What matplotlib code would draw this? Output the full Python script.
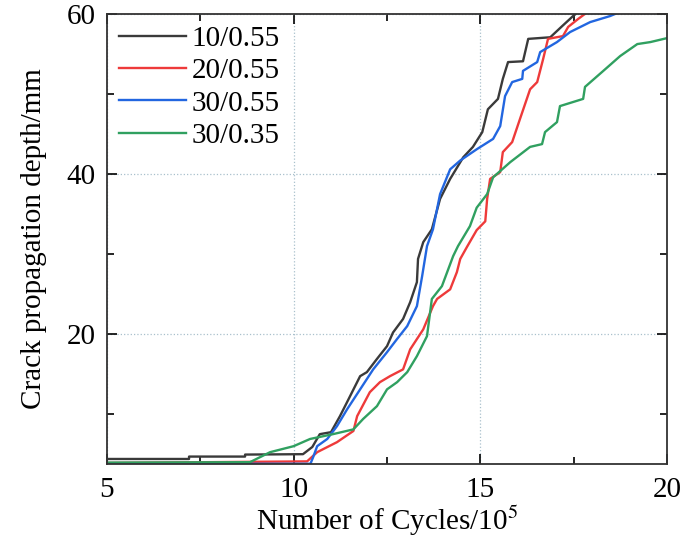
import numpy as np
import matplotlib
matplotlib.use("Agg")
import matplotlib.pyplot as plt
from matplotlib.ticker import MultipleLocator

plt.rcParams['font.family'] = ['Liberation Serif', 'DejaVu Serif']
plt.rcParams['mathtext.fontset'] = 'stix'

labels = ["10/0.55", "20/0.55", "30/0.55", "30/0.35"]
colors = ["#3a3a3a", "#ee3a3a", "#2266e0", "#30a060"]

# 10/0.55
x1 = [5.0, 7.2, 7.2, 8.7, 8.7, 10.25, 10.5, 10.7, 11.0, 11.24, 11.43, 11.78, 11.96, 12.23,
      12.5, 12.66, 12.93, 13.12, 13.3, 13.33, 13.47, 13.7, 13.92, 14.19, 14.54, 14.8,
      15.05, 15.2, 15.47, 15.6, 15.74, 16.14, 16.28, 16.87, 17.19, 17.48, 17.6]
y1 = [4.4, 4.4, 4.7, 4.7, 4.95, 5.0, 5.9, 7.5, 7.75, 9.75, 11.5, 14.75, 15.25, 16.9,
      18.5, 20.2, 21.9, 24.0, 26.5, 29.4, 31.5, 33.1, 36.9, 39.4, 42.1, 43.4,
      45.25, 48.1, 49.4, 51.9, 54.0, 54.1, 56.9, 57.1, 58.5, 59.75, 60.2]

# 20/0.55
x2 = [5.0, 10.36, 10.63, 11.16, 11.6, 11.7, 12.04, 12.31, 12.58, 12.93, 13.12, 13.47,
      13.73, 13.84, 14.19, 14.37, 14.46, 14.64, 14.9, 15.13, 15.18, 15.26, 15.53, 15.6,
      15.85, 16.06, 16.33, 16.52, 16.68, 16.81, 17.21, 17.35, 17.62, 17.85]
y2 = [3.9, 4.1, 5.25, 6.5, 7.9, 9.75, 12.75, 14.0, 14.75, 15.6, 18.1, 20.6,
      23.5, 24.4, 25.6, 27.75, 29.4, 30.9, 33.0, 34.1, 36.9, 39.4, 40.25, 42.75,
      44.0, 46.9, 50.6, 51.5, 54.4, 56.9, 57.25, 58.4, 59.4, 60.2]

# 30/0.55
x3 = [5.0, 10.45, 10.52, 10.63, 10.9, 11.16, 11.43, 11.78, 12.13, 12.5, 12.77, 13.04,
      13.3, 13.44, 13.57, 13.73, 13.92, 14.19, 14.46, 14.9, 15.34, 15.53, 15.66, 15.85,
      16.12, 16.14, 16.52, 16.6, 17.05, 17.4, 17.94, 18.47, 18.7]
y3 = [3.8, 3.8, 4.6, 6.0, 6.9, 8.5, 10.6, 13.1, 15.6, 17.75, 19.4, 21.0,
      23.5, 27.25, 31.0, 33.1, 37.5, 40.6, 41.7, 43.1, 44.4, 46.0, 49.75, 51.5,
      51.9, 52.9, 54.0, 55.25, 56.5, 57.75, 59.0, 59.75, 60.2]

# 30/0.35
x4 = [5.0, 8.83, 9.37, 10.0, 10.44, 11.05, 11.6, 11.86, 12.23, 12.5, 12.77, 13.04,
      13.3, 13.57, 13.7, 13.97, 14.27, 14.4, 14.72, 14.9, 15.18, 15.34, 15.8, 16.33,
      16.65, 16.73, 17.05, 17.13, 17.75, 17.8, 18.29, 18.74, 19.2, 19.55, 20.0]
y4 = [3.95, 4.0, 5.25, 6.0, 6.9, 7.5, 8.1, 9.4, 11.0, 13.1, 14.0, 15.25,
      17.25, 19.75, 24.4, 26.0, 29.75, 31.0, 33.5, 35.8, 37.5, 39.6, 41.5, 43.4,
      43.75, 45.25, 46.5, 48.5, 49.4, 50.9, 52.9, 54.75, 56.25, 56.5, 57.0]

fig = plt.figure(figsize=(6.85, 5.41), dpi=100)
ax = fig.add_axes([0.156, 0.142, 0.818, 0.832])

for xs, ys, lab, c in zip([x1, x2, x3, x4], [y1, y2, y3, y4], labels, colors):
    ax.plot(xs, ys, color=c, lw=1.7, label=lab)

ax.set_xlim(5, 20)
ax.set_ylim(3.75, 60)
ax.xaxis.set_major_locator(MultipleLocator(5))
ax.xaxis.set_minor_locator(MultipleLocator(2.5))
ax.set_yticks([20, 40, 60])
ax.yaxis.set_minor_locator(MultipleLocator(10))
ax.tick_params(which='both', direction='in', top=True, right=True, labelsize=21, width=1.2)
ax.tick_params(which='major', length=7)
ax.tick_params(which='minor', length=5)
ax.tick_params(axis='x', pad=9)
ax.tick_params(axis='y', pad=8)
ax.grid(True, which='major', linestyle=':', color='#a9c0cc', lw=0.9)
for s in ax.spines.values():
    s.set_linewidth(1.3)
    s.set_color('#333333')

ax.set_xlabel("Number of Cycles/10$^5$", fontsize=21, labelpad=1)
ax.set_ylabel("Crack propagation depth/mm", fontsize=21, labelpad=14)

ax.legend(loc='upper left', frameon=False, fontsize=21, handlelength=2.3,
          labelspacing=0.2, borderaxespad=0.1, borderpad=0.3, handletextpad=0.2)

fig.savefig("out.png", dpi=100)
